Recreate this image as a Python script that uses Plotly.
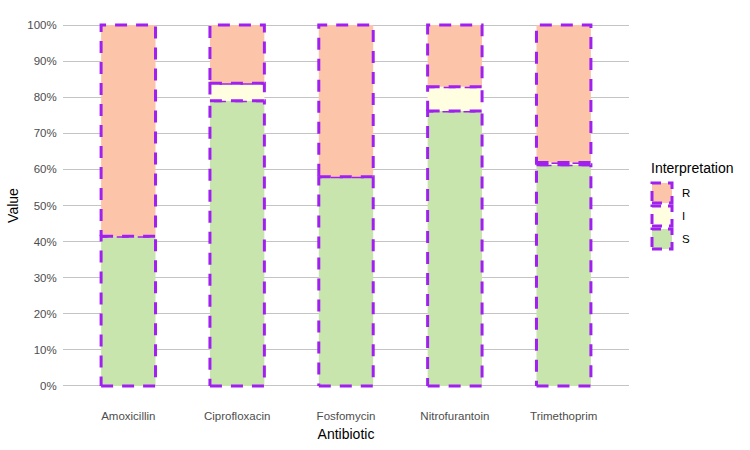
import plotly.graph_objects as go

antibiotics = ["Amoxicillin", "Ciprofloxacin", "Fosfomycin", "Nitrofurantoin", "Trimethoprim"]
s_values = [41.5, 79.0, 58.0, 76.2, 61.3]
i_values = [0.0, 4.9, 0.0, 6.7, 0.6]
r_values = [58.5, 16.1, 42.0, 17.1, 38.1]

categories = ["S", "I", "R"]
legend_order = ["R", "I", "S"]
fills = {"S": "#C9E5AE", "I": "#FFFEE0", "R": "#FCC5AA"}
outline = "#A020F0"
dash = "12px,9px"
bar_width = 0.5

series = {"S": s_values, "I": i_values, "R": r_values}

W, H = 750, 450
ML, MR, MT, MB = 63, 121, 7, 46
PW, PH = W - ML - MR, H - MT - MB


def px_x(p):
    return (p - ML) / PW


def px_y(p):
    return 1 - (p - MT) / PH


fig = go.Figure()
base = [0.0] * len(antibiotics)
for cat in categories:
    xs, ys = [], []
    vals = series[cat]
    for k, v in enumerate(vals):
        if v <= 0:
            continue
        x0, x1 = k - bar_width / 2, k + bar_width / 2
        y0, y1 = base[k], base[k] + v
        xs += [x0, x1, x1, x0, x0, None]
        ys += [y0, y0, y1, y1, y0, None]
    for k, v in enumerate(vals):
        base[k] += v
    fig.add_trace(go.Scatter(
        x=xs, y=ys, mode="lines", fill="toself", fillcolor=fills[cat],
        line=dict(color=outline, width=3, dash=dash),
        name=cat, hoverinfo="skip", showlegend=False,
    ))

# legend (drawn manually to get dashed key boxes)
fig.add_annotation(
    x=px_x(649), y=px_y(168), xref="paper", yref="paper", text="Interpretation",
    showarrow=False, xanchor="left", yanchor="middle",
    font=dict(size=14, color="black"),
)
key_top = 183
for j, cat in enumerate(legend_order):
    t = key_top + j * 23
    fig.add_shape(
        type="rect", xref="paper", yref="paper",
        x0=px_x(652), x1=px_x(672), y0=px_y(t + 20), y1=px_y(t),
        fillcolor=fills[cat], line=dict(color=outline, width=3, dash="10px,7px"),
        layer="above",
    )
    fig.add_annotation(
        x=px_x(680), y=px_y(t + 10), xref="paper", yref="paper", text=cat,
        showarrow=False, xanchor="left", yanchor="middle",
        font=dict(size=11.5, color="black"),
    )

fig.update_layout(
    width=W, height=H,
    margin=dict(l=ML, r=MR, t=MT, b=MB, autoexpand=False),
    plot_bgcolor="white", paper_bgcolor="white",
    font=dict(family="Liberation Sans, Arial, sans-serif", size=11.5, color="#4d4d4d"),
    showlegend=False,
    xaxis=dict(
        range=[-0.6, 4.6], tickmode="array", tickvals=list(range(len(antibiotics))),
        ticktext=antibiotics, showgrid=False, zeroline=False, showline=False,
        ticks="outside", ticklen=1, tickcolor="rgba(0,0,0,0)",
        title=dict(text="Antibiotic", font=dict(size=14, color="black"), standoff=8),
        tickfont=dict(size=11.5, color="#4d4d4d"),
    ),
    yaxis=dict(
        range=[-5, 105], tickmode="array", tickvals=list(range(0, 101, 10)),
        ticktext=[f"{v}%" for v in range(0, 101, 10)],
        showgrid=True, gridcolor="#C4C4C4", gridwidth=1.1, zeroline=False,
        showline=False, ticks="outside", ticklen=3, tickcolor="rgba(0,0,0,0)",
        title=dict(text="Value", font=dict(size=14, color="black"), standoff=5),
        tickfont=dict(size=11.5, color="#4d4d4d"),
    ),
)

fig.write_html(
    "out.html",
    config={"displayModeBar": False},
    post_script="document.body.style.margin='0';",
)
